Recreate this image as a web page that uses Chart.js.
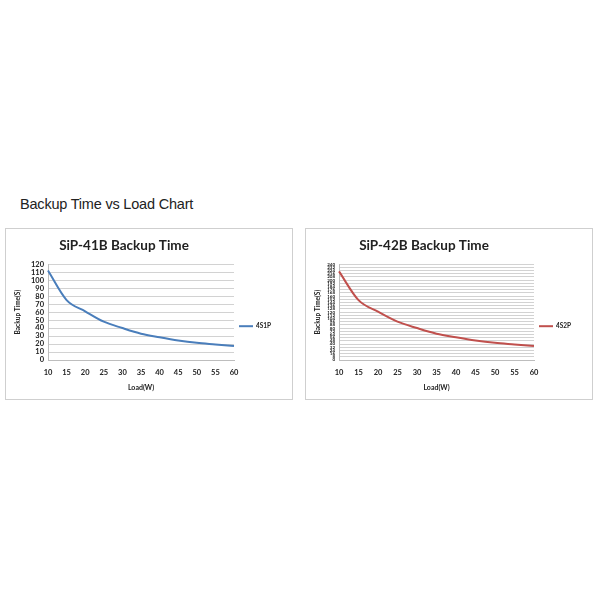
<!DOCTYPE html>
<html>
<head>
<meta charset="utf-8">
<script src="https://cdn.jsdelivr.net/npm/chart.js@4.4.0/dist/chart.umd.min.js"></script>
<style>
  body { margin: 0; background: #fff; width: 600px; height: 600px; position: relative; overflow: hidden; }
  #cabecalho { position: absolute; left: 20px; top: 196px; font: 14.5px "Liberation Sans", Arial, sans-serif; color: #222; letter-spacing: -0.2px; }
  .painel { position: absolute; top: 228px; width: 286px; height: 170px; border: 1px solid #cfcfcf; }
  #painel1 { left: 5px; }
  #painel2 { left: 305px; }
  canvas { position: absolute; left: 0; top: 0; }
</style>
</head>
<body>
<div id="cabecalho">Backup Time vs Load Chart</div>
<div class="painel" id="painel1"><canvas id="grafico1" width="286" height="170"></canvas></div>
<div class="painel" id="painel2"><canvas id="grafico2" width="286" height="170"></canvas></div>
<script>
// carga em W (eixo x)
const cargas = ['10', '15', '20', '25', '30', '35', '40', '45', '50', '55', '60'];

// tempo de backup em segundos
const tempo4S1P = [112, 75, 61, 48, 40, 33, 28.5, 24.5, 21.5, 19.5, 17.5];
const tempo4S2P = [222, 150, 121, 96, 80, 66, 57, 49, 43, 39, 35];

const titulos = ['SiP-41B Backup Time', 'SiP-42B Backup Time'];
const series = ['4S1P', '4S2P'];
const cores = ['#4a7ebb', '#c0504d'];

const fonteEixo = 'Lato, "Open Sans", sans-serif';

// legenda desenhada do lado direito, como no excel
const legendaDireita = {
    id: 'legendaDireita',
    afterDraw(chart) {
        const c = chart.ctx;
        const area = chart.chartArea;
        const ds = chart.data.datasets[0];
        const y = area.top + 62;
        c.save();
        c.strokeStyle = ds.borderColor;
        c.lineWidth = 2;
        c.beginPath();
        c.moveTo(area.right + 5, y);
        c.lineTo(area.right + 19, y);
        c.stroke();
        c.fillStyle = '#222';
        c.font = 'bold 6.5px ' + fonteEixo;
        c.textBaseline = 'middle';
        c.fillText(ds.label, area.right + 22, y);
        c.restore();
    }
};

function criarGrafico(id, titulo, nome, dados, cor, yMax, passo, fonteY, larguraY) {
    const ctx = document.getElementById(id).getContext('2d');
    return new Chart(ctx, {
        type: 'line',
        data: {
            labels: cargas,
            datasets: [{
                label: nome,
                data: dados,
                borderColor: cor,
                borderWidth: 2,
                pointRadius: 0,
                fill: false,
                cubicInterpolationMode: 'monotone'
            }]
        },
        options: {
            responsive: false,
            animation: false,
            layout: { padding: { left: 8, right: 58, top: 3, bottom: 6 } },
            scales: {
                x: {
                    offset: false,
                    grid: { display: false, drawTicks: false },
                    border: { color: '#bdbdbd' },
                    ticks: { color: '#222', font: { family: fonteEixo, size: 7.5, weight: 'bold' }, padding: 8, maxRotation: 0 },
                    title: { display: true, text: 'Load(W)', color: '#222', font: { family: fonteEixo, size: 7, weight: 'bold' }, padding: 1 },
                    afterFit(s) { s.height = 33; }
                },
                y: {
                    min: 0,
                    max: yMax,
                    grid: { color: '#d2d2d2', drawTicks: false },
                    border: { color: '#bdbdbd' },
                    ticks: { stepSize: passo, autoSkip: false, color: '#222', font: { family: fonteEixo, size: fonteY, weight: 'bold' }, padding: 4 },
                    title: { display: true, text: 'Backup Time(S)', color: '#222', font: { family: fonteEixo, size: 6.5, weight: 'bold' }, padding: 0 },
                    afterFit(s) { s.width = larguraY; }
                }
            },
            plugins: {
                legend: { display: false },
                tooltip: { enabled: false },
                title: {
                    display: true,
                    text: titulo,
                    color: '#222',
                    font: { family: fonteEixo, size: 13.5, weight: 'bold' },
                    padding: { top: 6, bottom: 10 }
                }
            }
        },
        plugins: [legendaDireita]
    });
}

criarGrafico('grafico1', titulos[0], series[0], tempo4S1P, cores[0], 120, 10, 7.5, 34);
criarGrafico('grafico2', titulos[1], series[1], tempo4S2P, cores[1], 240, 8, 4.5, 25);
</script>
</body>
</html>
